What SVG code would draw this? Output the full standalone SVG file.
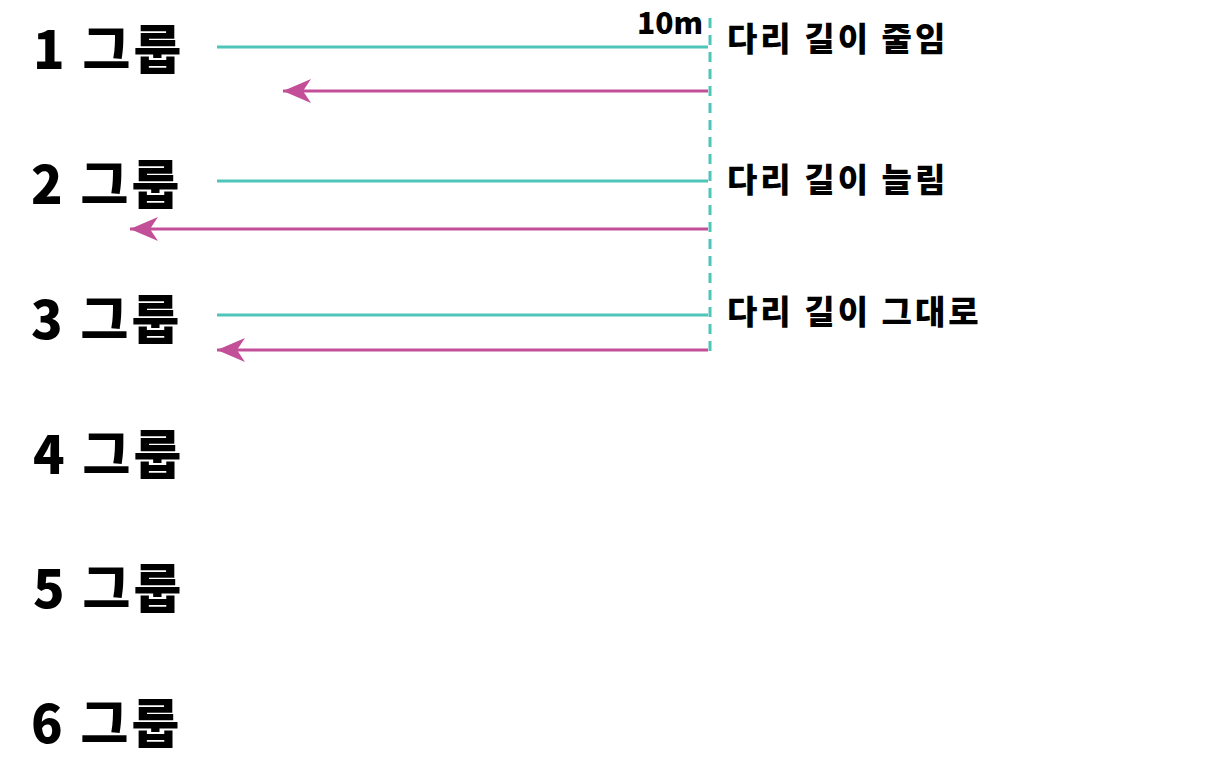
<svg xmlns="http://www.w3.org/2000/svg" width="1210" height="774" viewBox="0 0 1210 774">
<style>
.grp{font-family:"Noto Sans CJK KR","Noto Sans",sans-serif;font-weight:900;font-size:52px;letter-spacing:3px;fill:#000}
.lbl{font-family:"Noto Sans CJK KR","Noto Sans",sans-serif;font-weight:900;font-size:33px;letter-spacing:3px;fill:#000}
.teal{stroke:#4fc4b9;stroke-width:3;fill:none}
.mag{stroke:#c24f98;stroke-width:3;fill:none}
</style>
<defs>
<marker id="ah" markerUnits="userSpaceOnUse" markerWidth="32" markerHeight="28" refX="30" refY="14" orient="auto" viewBox="0 0 32 28">
<path d="M30 14 L2 2 L10 14 L2 26 Z" fill="#c24f98"/>
</marker>
</defs>
<g id="g1"><text class="grp" x="33" y="69">1 그룹</text></g>
<g id="g2"><text class="grp" x="31" y="204">2 그룹</text></g>
<g id="g3"><text class="grp" x="31" y="339">3 그룹</text></g>
<g id="g4"><text class="grp" x="33" y="474">4 그룹</text></g>
<g id="g5"><text class="grp" x="33" y="608">5 그룹</text></g>
<g id="g6"><text class="grp" x="31" y="743">6 그룹</text></g>
<g id="labels">
<text class="lbl" x="703" y="34" text-anchor="end" style="font-size:30px;letter-spacing:0">10m</text>
<text class="lbl" x="727" y="51">다리 길이 줄임</text>
<text class="lbl" x="727" y="192">다리 길이 늘림</text>
<text class="lbl" x="727" y="324">다리 길이 그대로</text>
</g>
<g id="connectors">
<line class="teal" x1="710" y1="18" x2="710" y2="352" stroke-dasharray="10 7"/>
<line class="teal" x1="217" y1="47" x2="708" y2="47"/>
<line class="teal" x1="217" y1="181" x2="708" y2="181"/>
<line class="teal" x1="217" y1="315" x2="708" y2="315"/>
<line class="mag" x1="708" y1="91" x2="283" y2="91" marker-end="url(#ah)"/>
<line class="mag" x1="708" y1="229" x2="130" y2="229" marker-end="url(#ah)"/>
<line class="mag" x1="708" y1="350" x2="217" y2="350" marker-end="url(#ah)"/>
</g>
</svg>
